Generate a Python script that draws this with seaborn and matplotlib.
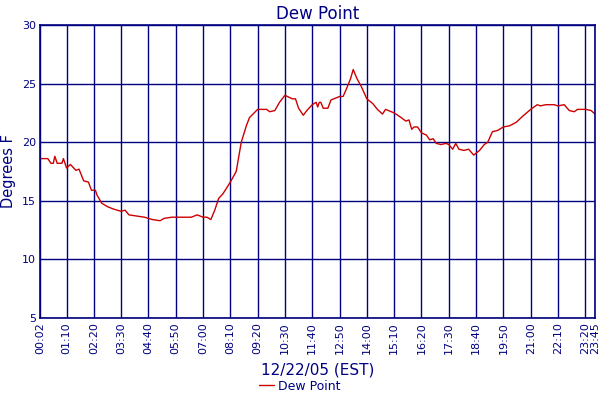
import matplotlib
matplotlib.use("Agg")
import matplotlib.pyplot as plt
import seaborn as sns
import pandas as pd

times = ["00:02", "00:22", "00:30", "00:36", "00:40", "00:46", "00:58", "01:02", "01:10", "01:20",
         "01:34", "01:42", "01:54", "02:06", "02:14", "02:24", "02:28", "02:40", "02:55", "03:10",
         "03:30", "03:40", "03:50", "04:10", "04:30", "04:50", "05:10", "05:20", "05:40", "06:00",
         "06:30", "06:45", "07:00", "07:10", "07:20", "07:30", "07:40", "07:51", "08:10", "08:25",
         "08:38", "08:51", "08:59", "09:20", "09:43", "09:51", "10:04", "10:16", "10:30", "10:49",
         "10:57", "11:05", "11:17", "11:26", "11:40", "11:50", "11:54", "11:58", "12:02", "12:08",
         "12:20", "12:28", "12:50", "12:59", "13:07", "13:18", "13:25", "13:35", "13:45", "14:00",
         "14:15", "14:27", "14:40", "14:48", "15:10", "15:19", "15:28", "15:40", "15:48", "15:55",
         "16:01", "16:10", "16:20", "16:33", "16:41", "16:50", "16:58", "17:10", "17:23", "17:30",
         "17:40", "17:48", "17:56", "18:09", "18:21", "18:34", "18:49", "19:01", "19:10", "19:22",
         "19:35", "19:50", "20:06", "20:23", "20:39", "21:00", "21:17", "21:25", "21:39", "22:00",
         "22:10", "22:26", "22:39", "22:52", "23:00", "23:22", "23:35", "23:45"]
dew_point = [18.6, 18.6, 18.2, 18.2, 18.8, 18.2, 18.2, 18.6, 17.8, 18.1,
             17.6, 17.7, 16.7, 16.6, 15.9, 15.9, 15.5, 14.8, 14.5, 14.3,
             14.1, 14.2, 13.8, 13.7, 13.6, 13.4, 13.3, 13.5, 13.6, 13.6,
             13.6, 13.8, 13.6, 13.6, 13.4, 14.2, 15.2, 15.6, 16.6, 17.5,
             20.0, 21.4, 22.1, 22.8, 22.8, 22.6, 22.7, 23.4, 24.0, 23.7,
             23.7, 22.9, 22.3, 22.7, 23.2, 23.4, 23.0, 23.4, 23.4, 22.9,
             22.9, 23.6, 23.9, 23.9, 24.5, 25.4, 26.2, 25.4, 24.8, 23.7,
             23.3, 22.8, 22.4, 22.8, 22.5, 22.3, 22.1, 21.8, 21.9, 21.1,
             21.3, 21.3, 20.8, 20.6, 20.2, 20.3, 19.9, 19.8, 19.9, 19.8,
             19.4, 19.9, 19.4, 19.3, 19.4, 18.9, 19.3, 19.8, 20.0, 20.9,
             21.0, 21.3, 21.4, 21.7, 22.2, 22.8, 23.2, 23.1, 23.2, 23.2,
             23.1, 23.2, 22.7, 22.6, 22.8, 22.8, 22.7, 22.4]
tick_labels = ["00:02", "01:10", "02:20", "03:30", "04:40", "05:50", "07:00", "08:10", "09:20",
               "10:30", "11:40", "12:50", "14:00", "15:10", "16:20", "17:30", "18:40", "19:50",
               "21:00", "22:10", "23:20", "23:45"]


def to_min(s):
    h, m = s.split(":")
    return int(h) * 60 + int(m)


df = pd.DataFrame({"minute": [to_min(t) for t in times], "Dew Point": dew_point})
ticks = [to_min(t) for t in tick_labels]

sns.set_style("white")
plt.rcParams['font.family'] = ['DejaVu Sans']
navy = "#000080"

fig = plt.figure(figsize=(6, 4), dpi=100)
ax = fig.add_axes([0.0667, 0.205, 0.925, 0.7325])
sns.lineplot(data=df, x="minute", y="Dew Point", color="#cc0000", linewidth=1,
             label="Dew Point", ax=ax)

ax.set_xlim(ticks[0], ticks[-1])
ax.set_ylim(5, 30)
ax.set_xticks(ticks)
ax.set_xticklabels(tick_labels, rotation=90, fontsize=8, color=navy)
ax.set_yticks([5, 10, 15, 20, 25, 30])
ax.set_yticklabels(["5", "10", "15", "20", "25", "30"], fontsize=8, color=navy)
ax.tick_params(length=0, pad=3)
ax.grid(True, color=navy, linewidth=1)
for sp in ax.spines.values():
    sp.set_color(navy)
    sp.set_linewidth(1.2)

ax.set_title("Dew Point", color=navy, fontsize=12, pad=4)
ax.set_ylabel("Degrees F", color=navy, fontsize=10.5, labelpad=4)
ax.set_xlabel("12/22/05 (EST)", color=navy, fontsize=11, labelpad=6)

ax.legend_.remove()
handles, labels = ax.get_legend_handles_labels()
fig.legend(handles, labels, loc="lower center", bbox_to_anchor=(0.5, -0.01), frameon=False,
           fontsize=9, labelcolor=navy, handlelength=1.2, handletextpad=0.3)

plt.savefig("out.png", dpi=100)
